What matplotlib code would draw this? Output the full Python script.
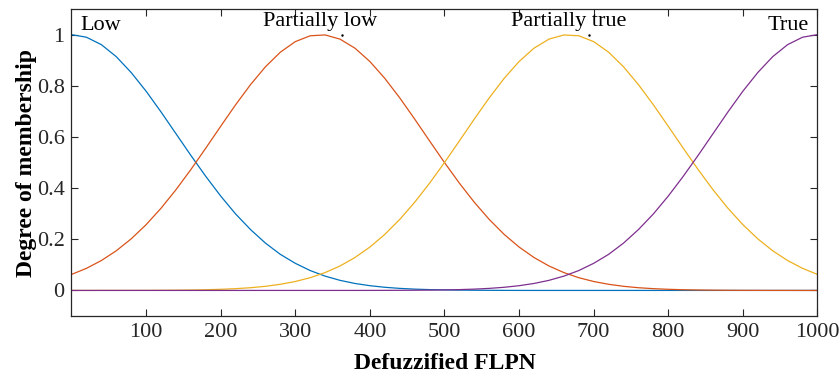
import matplotlib
matplotlib.use('Agg')
import matplotlib.pyplot as plt

# membership values, x = 0..1000 step 20
x = list(range(0, 1001, 20))

low = [1.0, 0.990, 0.961, 0.914, 0.852, 0.779, 0.698, 0.613, 0.528, 0.446,
       0.369, 0.299, 0.238, 0.185, 0.141, 0.106, 0.0777, 0.0559, 0.0394, 0.0272,
       0.0185, 0.0123, 0.0080, 0.0051, 0.0032, 0.0020, 0.0012, 0.0007, 0.0004, 0.0002,
       0.0001, 0, 0, 0, 0, 0, 0, 0, 0, 0,
       0, 0, 0, 0, 0, 0, 0, 0, 0, 0, 0]

partially_low = [0.0625, 0.0863, 0.1168, 0.155, 0.2016, 0.257, 0.3212, 0.3935, 0.4725, 0.5562,
                 0.6417, 0.7258, 0.8046, 0.8744, 0.9315, 0.9727, 0.9956, 0.9989, 0.9824, 0.9471,
                 0.895, 0.8291, 0.7529, 0.6701, 0.5846, 0.5, 0.4192, 0.3445, 0.2775, 0.2191,
                 0.1696, 0.1287, 0.0957, 0.0698, 0.0498, 0.0349, 0.0240, 0.0161, 0.0106, 0.0069,
                 0.0044, 0.0027, 0.0017, 0.0010, 0.0006, 0.0003, 0.0002, 0.0001, 0.0001, 0, 0]

partially_true = [0, 0, 0.0001, 0.0001, 0.0002, 0.0003, 0.0006, 0.0010, 0.0017, 0.0027,
                  0.0044, 0.0069, 0.0106, 0.0161, 0.0240, 0.0349, 0.0498, 0.0698, 0.0957, 0.1287,
                  0.1696, 0.2191, 0.2775, 0.3445, 0.4192, 0.5, 0.5846, 0.6701, 0.7529, 0.8291,
                  0.895, 0.9471, 0.9824, 0.9989, 0.9956, 0.9727, 0.9315, 0.8744, 0.8046, 0.7258,
                  0.6417, 0.5562, 0.4725, 0.3935, 0.3212, 0.257, 0.2016, 0.155, 0.1168, 0.0863,
                  0.0625]

true_ = [0, 0, 0, 0, 0, 0, 0, 0, 0, 0,
         0, 0, 0, 0, 0, 0, 0, 0, 0, 0,
         0.0001, 0.0002, 0.0004, 0.0007, 0.0012, 0.0020, 0.0032, 0.0051, 0.0080, 0.0123,
         0.0185, 0.0272, 0.0394, 0.0559, 0.0777, 0.106, 0.141, 0.185, 0.238, 0.299,
         0.369, 0.446, 0.528, 0.613, 0.698, 0.779, 0.852, 0.914, 0.961, 0.990,
         1.0]

names = ['Low', 'Partially low', 'Partially true', 'True']
centers = [0, 333.3, 666.7, 1000]
colors = ['#0072BD', '#D95319', '#EDB120', '#7E2F8E']
xticks = [100, 200, 300, 400, 500, 600, 700, 800, 900, 1000]
yticks = [0, 0.2, 0.4, 0.6, 0.8, 1]

plt.rcParams['font.family'] = ['Liberation Serif', 'DejaVu Serif']

fig = plt.figure(figsize=(8.4, 3.78), dpi=100)
ax = fig.add_axes([0.0851, 0.164, 0.8881, 0.812])

for ys, c in zip([low, partially_low, partially_true, true_], colors):
    ax.plot(x, ys, color=c, lw=0.9)

# labels above each membership function
ax.text(12, 1.018, names[0], fontsize=16, ha='left', va='baseline')
ax.text(centers[1], 1.035, names[1], fontsize=16, ha='center', va='baseline')
ax.text(centers[2], 1.035, names[2], fontsize=16, ha='center', va='baseline')
ax.text(988, 1.018, names[3], fontsize=16, ha='right', va='baseline')
# small dots next to the middle labels
ax.plot([362, 694], [1.0, 1.0], 'k.', ms=1.5)

ax.set_xlim(0, 1000)
ax.set_ylim(-0.1, 1.1)
ax.set_xticks(xticks)
ax.set_yticks(yticks)
ax.set_yticklabels(['0', '0.2', '0.4', '0.6', '0.8', '1'])
ax.tick_params(direction='in', length=5, width=0.8, top=True, right=True,
               labelsize=16, colors='#262626', pad=5)
for s in ax.spines.values():
    s.set_linewidth(0.9)
    s.set_color('#262626')

ax.set_xlabel('Defuzzified FLPN', fontsize=17, fontweight='bold', labelpad=8)
ax.set_ylabel('Degree of membership', fontsize=17, fontweight='bold', labelpad=0)

fig.savefig('out.png', dpi=100)
